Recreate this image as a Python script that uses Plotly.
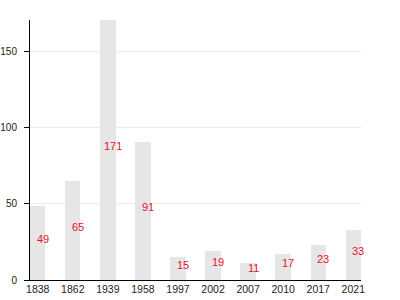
import plotly.graph_objects as go

years = ["1838", "1862", "1939", "1958", "1997", "2002", "2007", "2010", "2017", "2021"]
values = [49, 65, 171, 91, 15, 19, 11, 17, 23, 33]
y_ticks = [0, 50, 100, 150]

fig = go.Figure()
fig.add_trace(go.Bar(
    x=years, y=values, width=0.44,
    marker=dict(color="#e6e6e6", line=dict(width=0)),
    hoverinfo="skip",
))

annotations = [
    dict(x=i, y=v / 2, text=str(v), showarrow=False, xshift=5, yshift=4,
         font=dict(family="Liberation Sans, Arial, sans-serif", size=11, color="#e8112d"),
         xref="x", yref="y")
    for i, v in enumerate(values)
]

fig.update_layout(
    width=400, height=300,
    margin=dict(l=30, r=39, t=20, b=20),
    paper_bgcolor="white", plot_bgcolor="white",
    showlegend=False,
    bargap=0,
    font=dict(family="Liberation Sans, Arial, sans-serif", size=11, color="#222"),
    annotations=annotations,
    xaxis=dict(type="category", range=[-0.22, 9.22], showline=True, linecolor="black",
               linewidth=1, ticks="", showgrid=False, tickfont=dict(size=10.5), automargin=False,
               ticklabelstandoff=-1),
    yaxis=dict(range=[0, 171], tickvals=y_ticks, showline=True, linecolor="black",
               linewidth=1, ticks="outside", ticklen=5, tickcolor="black",
               showgrid=True, gridcolor="#ebebeb", zeroline=False, tickfont=dict(size=10),
               automargin=False, ticklabelstandoff=5),
)

fig.write_html("out.html", config={"displayModeBar": False})
